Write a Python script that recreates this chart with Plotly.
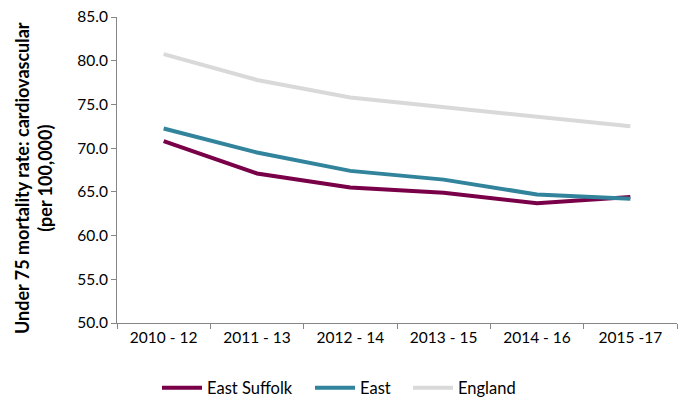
import plotly.graph_objects as go

periods = ["2010 - 12", "2011 - 13", "2012 - 14", "2013 - 15", "2014 - 16", "2015 -17"]
east_suffolk = [70.8, 67.1, 65.5, 64.9, 63.7, 64.4]
east = [72.25, 69.5, 67.4, 66.4, 64.7, 64.2]
england = [80.75, 77.8, 75.8, 74.7, 73.5, 72.5]

series = [
    ("East Suffolk", east_suffolk, "#790048"),
    ("East", east, "#31849b"),
    ("England", england, "#d9d9d9"),
]

W, H = 683, 401
font_family = "Lato, Open Sans, Liberation Sans, sans-serif"

# one legend box per series so each entry sits at its own x position
legend_keys = ["legend", "legend2", "legend3"]
legend_x_px = [157, 310, 408]

fig = go.Figure()
for (name, vals, col), key in zip(series, legend_keys):
    fig.add_trace(go.Scatter(
        x=periods, y=vals, name=name, mode="lines",
        line=dict(color=col, width=4), legend=key,
    ))

legend_layout = {}
for key, px in zip(legend_keys, legend_x_px):
    legend_layout[key] = dict(
        orientation="h", xref="container", x=px / W, xanchor="left",
        yref="container", y=13 / H, yanchor="middle",
        font=dict(size=16.5, family=font_family), itemwidth=40,
        bgcolor="rgba(0,0,0,0)",
    )

fig.update_layout(
    width=W, height=H,
    margin=dict(l=117, r=6, t=17, b=78, autoexpand=False),
    paper_bgcolor="white", plot_bgcolor="white",
    font=dict(family=font_family, size=15, color="#000000"),
    showlegend=True,
    **legend_layout,
    xaxis=dict(
        type="category", range=[-0.5, 5.5],
        showline=True, linecolor="#868686", linewidth=1,
        ticks="outside", tickson="boundaries", ticklen=5, tickcolor="#868686",
        showgrid=False, tickfont=dict(size=15.5),
    ),
    yaxis=dict(
        range=[50, 85], dtick=5, tickformat=".1f",
        showline=True, linecolor="#868686", linewidth=1,
        ticks="outside", ticklen=5, tickcolor="#868686",
        showgrid=False, zeroline=False, tickfont=dict(size=15.5),
    ),
    annotations=[dict(
        text="<b>Under 75 mortality rate: cardiovascular<br>(per 100,000)</b>",
        xref="paper", yref="paper",
        x=(33 - 117) / 560, y=(323 - 178) / 306,
        xanchor="center", yanchor="middle", textangle=-90,
        showarrow=False, font=dict(size=18, family=font_family, color="#000000"),
    )],
)

fig.write_html("out.html")
